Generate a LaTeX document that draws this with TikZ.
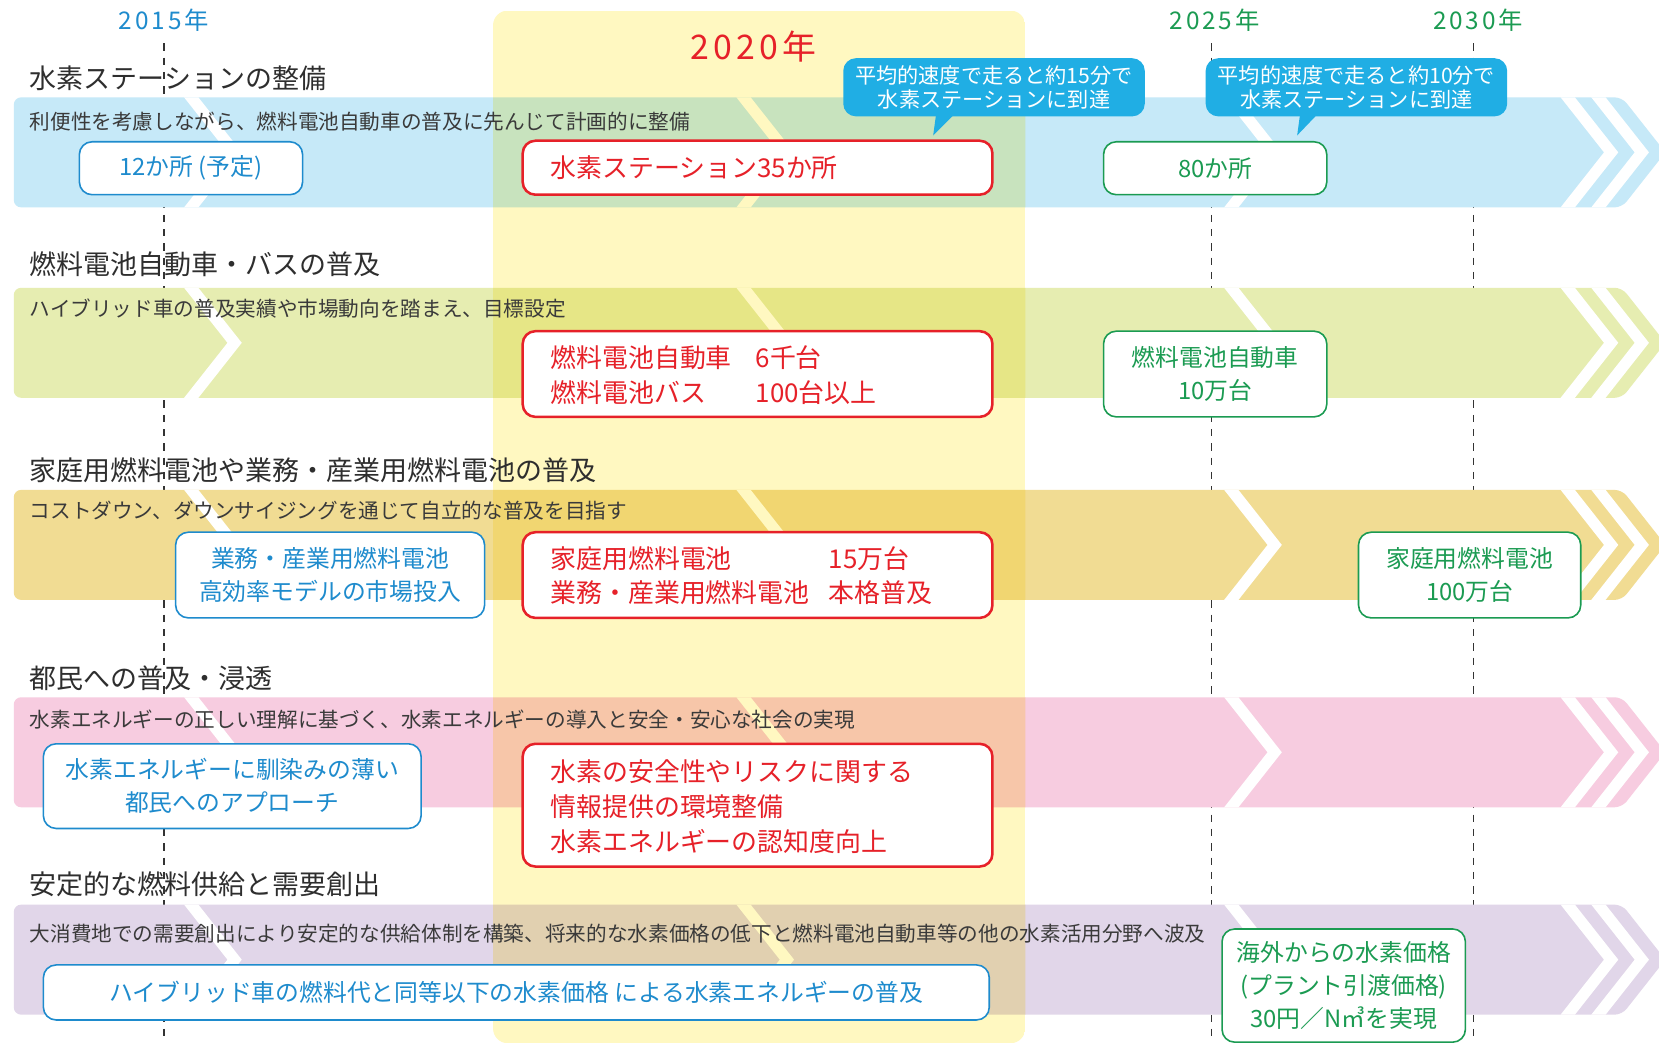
\documentclass[tikz,border=0pt]{standalone}
\usepackage{fontspec}
\setmainfont{Noto Sans CJK JP}
\newfontfamily\yearfont{Noto Sans CJK JP}[LetterSpace=12]
\definecolor{cblue}{HTML}{1E8BCD}
\definecolor{cred}{HTML}{E62129}
\definecolor{cgreen}{HTML}{1B9B52}
\definecolor{cbub}{HTML}{20AEE4}
\definecolor{ctitle}{HTML}{2E2E2E}
\definecolor{csub}{HTML}{3A3A3A}
\definecolor{cdash}{HTML}{333333}
\definecolor{colY}{HTML}{FFF8C1}
\definecolor{bandA}{HTML}{C6E9F8}
\definecolor{bandB}{HTML}{E6EDB1}
\definecolor{bandC}{HTML}{F1DC93}
\definecolor{bandD}{HTML}{F7CCE0}
\definecolor{bandE}{HTML}{E1D6E9}
\definecolor{bandAy}{HTML}{C8E3BE}
\definecolor{bandBy}{HTML}{E6E686}
\definecolor{bandCy}{HTML}{F1D671}
\definecolor{bandDy}{HTML}{F7C6A9}
\definecolor{bandEy}{HTML}{E1D0B0}
\newcommand{\bandshape}[1]{(13,#1) -- (1533,#1) -- (1574,{#1+52}) -- (1533,{#1+104}) -- (13,{#1+104}) -- cycle}
\newcommand{\gapshape}[2]{({#1-4.73},{#2-6}) -- ({#1+8.77},{#2-6}) -- ({#1+54.5},{#2+52}) -- ({#1+8.77},{#2+110}) -- ({#1-4.73},{#2+110}) -- ({#1+41},{#2+52}) -- cycle}
\newcommand{\drawband}[3]{%
  \fill[#2, rounded corners=7pt] \bandshape{#1};
  \begin{scope}
    \clip[rounded corners=7pt] \bandshape{#1};
    \foreach \gx in {174,696,1157,1475,1504} {\fill[#3] \gapshape{\gx}{#1};}
  \end{scope}}
\begin{document}
\begin{tikzpicture}[x=1pt,y=-1pt,
  txt/.style={inner sep=0pt},
  ttl/.style={txt, anchor=west, text=ctitle, font=\fontsize{25.5}{30}\selectfont},
  subt/.style={txt, anchor=west, text=csub, font=\fontsize{19.5}{24}\selectfont},
  bbox/.style={draw=cblue, line width=1.5pt, fill=white, rounded corners=12pt, text=cblue, align=center, inner sep=0pt, font=\fontsize{22.5}{31}\selectfont},
  gbox/.style={draw=cgreen, line width=1.5pt, fill=white, rounded corners=12pt, text=cgreen, align=center, inner sep=0pt, font=\fontsize{22.5}{31}\selectfont},
  rbox/.style={draw=cred, line width=2.4pt, fill=white, rounded corners=12pt, inner sep=0pt},
  rtxt/.style={txt, anchor=west, text=cred, font=\fontsize{24.5}{30}\selectfont},
  bubble/.style={fill=cbub, rounded corners=12pt, text=white, align=center, inner sep=0pt, font=\fontsize{20}{23}\selectfont},
  yr/.style={txt, font=\yearfont\fontsize{23}{28}\selectfont},
  dashln/.style={line width=1.1pt, draw=cdash, dash pattern=on 7pt off 6.5pt}
]
\fill[white] (0,0) rectangle (1568,986);
\useasboundingbox (0,0) rectangle (1568,986);

% dashed year lines
\coordinate (l15t) at (155,41); \coordinate (l15b) at (155,986);
\coordinate (l25t) at (1145,41); \coordinate (l25b) at (1145,986);
\coordinate (l30t) at (1393,41); \coordinate (l30b) at (1393,986);
\draw[dashln] (l15t) -- (l15b);
\draw[dashln] (l25t) -- (l25b);
\draw[dashln] (l30t) -- (l30b);

% bands
\drawband{92}{bandA}{white}
\drawband{272}{bandB}{white}
\drawband{463}{bandC}{white}
\drawband{659}{bandD}{white}
\drawband{855}{bandE}{white}

% 2020 column
\begin{scope}
  \clip[rounded corners=14pt] (466,10) rectangle (969,986);
  \fill[colY] (466,10) rectangle (969,986);
  \drawband{92}{bandAy}{colY}
  \drawband{272}{bandBy}{colY}
  \drawband{463}{bandCy}{colY}
  \drawband{659}{bandDy}{colY}
  \drawband{855}{bandEy}{colY}
\end{scope}

% year labels
\node[yr, text=cblue] (y15) at (155,19) {2015年};
\node[yr, text=cred, font=\yearfont\fontsize{32}{36}\selectfont] (y20) at (712,44) {2020年};
\node[yr, text=cgreen] (y25) at (1148,19) {2025年};
\node[yr, text=cgreen] (y30) at (1397,19) {2030年};

% titles
\node[ttl] (t1) at (28,74) {水素ステーションの整備};
\node[ttl] (t2) at (28,250) {燃料電池自動車・バスの普及};
\node[ttl] (t3) at (28,444) {家庭用燃料電池や業務・産業用燃料電池の普及};
\node[ttl] (t4) at (28,641) {都民への普及・浸透};
\node[ttl] (t5) at (28,836) {安定的な燃料供給と需要創出};

% subtitles
\node[subt] (s1) at (28,115) {利便性を考慮しながら、燃料電池自動車の普及に先んじて計画的に整備};
\node[subt] (s2) at (28,292) {ハイブリッド車の普及実績や市場動向を踏まえ、目標設定};
\node[subt] (s3) at (28,483) {コストダウン、ダウンサイジングを通じて自立的な普及を目指す};
\node[subt] (s4) at (28,680) {水素エネルギーの正しい理解に基づく、水素エネルギーの導入と安全・安心な社会の実現};
\node[subt] (s5) at (28,882) {大消費地での需要創出により安定的な供給体制を構築、将来的な水素価格の低下と燃料電池自動車等の他の水素活用分野へ波及};

% blue boxes
\node[bbox, minimum width=211pt, minimum height=50pt] (b1) at (180.5,159) {12か所 (予定)};
\node[bbox, minimum width=292pt, minimum height=81pt] (b3) at (312,543.5) {業務・産業用燃料電池\\高効率モデルの市場投入};
\node[bbox, minimum width=357pt, minimum height=80pt] (b4) at (219.5,743) {水素エネルギーに馴染みの薄い\\都民へのアプローチ};
\node[bbox, minimum width=894pt, minimum height=52pt] (b5) at (488,938) {ハイブリッド車の燃料代と同等以下の水素価格 による水素エネルギーの普及};

% green boxes
\node[gbox, minimum width=211pt, minimum height=50pt] (g1) at (1148.5,159) {80か所};
\node[gbox, minimum width=211pt, minimum height=81pt] (g2) at (1148.5,353.5) {燃料電池自動車\\10万台};
\node[gbox, minimum width=210pt, minimum height=81pt] (g3) at (1389,543.5) {家庭用燃料電池\\100万台};
\node[gbox, minimum width=230pt, minimum height=107pt] (g5) at (1270,931.5) {海外からの水素価格\\(プラント引渡価格)\\30円／N㎥を実現};

% red boxes
\node[rbox, minimum width=444pt, minimum height=51pt] (r1) at (716,158.5) {};
\node[rtxt] (r1a) at (520,158) {水素ステーション35か所};
\node[rbox, minimum width=444pt, minimum height=81pt] (r2) at (716,353.5) {};
\node[rtxt] (r2a) at (520,338) {燃料電池自動車};
\node[rtxt] (r2b) at (714,338) {6千台};
\node[rtxt] (r2c) at (520,371) {燃料電池バス};
\node[rtxt] (r2d) at (714,371) {100台以上};
\node[rbox, minimum width=444pt, minimum height=81pt] (r3) at (716,543.5) {};
\node[rtxt] (r3a) at (520,528) {家庭用燃料電池};
\node[rtxt] (r3b) at (783,528) {15万台};
\node[rtxt] (r3c) at (520,560) {業務・産業用燃料電池};
\node[rtxt] (r3d) at (783,560) {本格普及};
\node[rbox, minimum width=444pt, minimum height=116pt] (r4) at (716,761) {};
\node[rtxt] (r4a) at (520,729) {水素の安全性やリスクに関する};
\node[rtxt] (r4b) at (520,762) {情報提供の環境整備};
\node[rtxt] (r4c) at (520,795) {水素エネルギーの認知度向上};

% speech bubbles
\fill[cbub] (885,106) -- (904,106) -- (882,128) -- cycle;
\node[bubble, minimum width=285pt, minimum height=55pt] (bub1) at (939.5,82.5) {平均的速度で走ると約15分で\\水素ステーションに到達};
\fill[cbub] (1229,106) -- (1247,106) -- (1226,128) -- cycle;
\node[bubble, minimum width=285pt, minimum height=55pt] (bub2) at (1282,82.5) {平均的速度で走ると約10分で\\水素ステーションに到達};
\end{tikzpicture}
\end{document}
